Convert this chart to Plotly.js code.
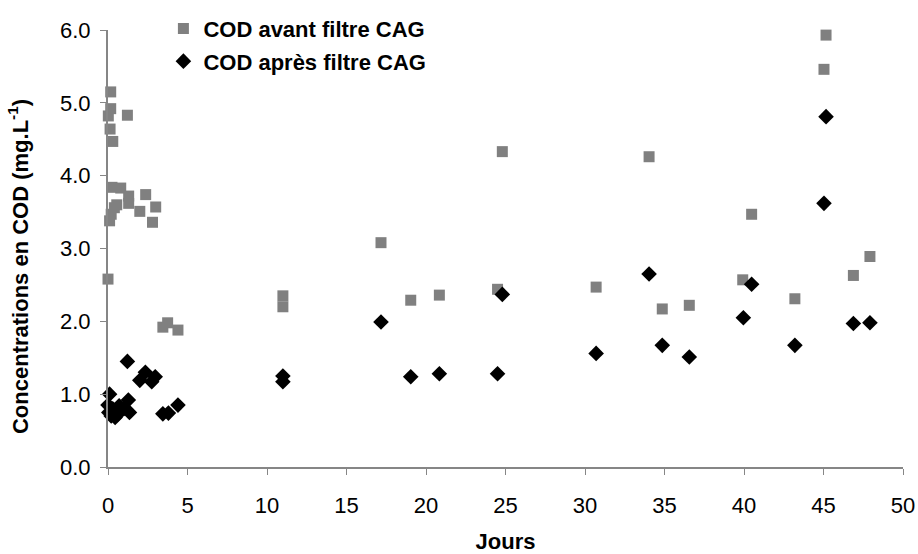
<!DOCTYPE html>
<html>
<head>
<meta charset="utf-8">
<script src="https://cdn.plot.ly/plotly-3.0.1.min.js"></script>
<style>html,body{margin:0;padding:0;background:#fff;}#chart{width:918px;height:554px;}</style>
</head>
<body>
<div id="chart"></div>
<script>
// Days and COD concentrations (mg/L)
const avantJours = [0.0, 0.1, 0.2, 0.4, 0.55, 0.25, 0.8, 0.3, 0.13, 0.02, 0.17, 0.17, 1.22, 1.3, 1.3, 2.37, 2.0, 3.0, 2.8, 3.45, 3.75, 4.4, 11.0, 11.0, 17.17, 19.04, 20.84, 24.5, 24.8, 30.7, 34.03, 34.86, 36.56, 39.92, 40.48, 43.2, 45.03, 45.16, 46.88, 47.92];
const avantCOD = [2.58, 3.38, 3.47, 3.56, 3.6, 3.84, 3.83, 4.47, 4.64, 4.82, 4.92, 5.15, 4.83, 3.72, 3.62, 3.74, 3.51, 3.57, 3.36, 1.92, 1.98, 1.88, 2.35, 2.2, 3.08, 2.29, 2.36, 2.44, 4.33, 2.47, 4.26, 2.17, 2.22, 2.57, 3.47, 2.31, 5.46, 5.93, 2.63, 2.89];

const apresJours = [0.1, 0.0, 0.05, 0.2, 0.45, 0.3, 0.6, 0.7, 1.0, 1.28, 1.35, 1.22, 2.0, 2.35, 2.75, 2.97, 3.45, 3.8, 4.4, 11.0, 11.0, 17.17, 19.04, 20.84, 24.5, 24.8, 30.7, 34.03, 34.86, 36.56, 39.96, 40.48, 43.2, 45.03, 45.16, 46.88, 47.92];
const apresCOD = [1.0, 0.85, 0.75, 0.7, 0.68, 0.8, 0.72, 0.84, 0.8, 0.92, 0.75, 1.45, 1.19, 1.30, 1.17, 1.24, 0.73, 0.74, 0.85, 1.25, 1.17, 1.99, 1.24, 1.28, 1.28, 2.37, 1.56, 2.65, 1.67, 1.51, 2.05, 2.51, 1.67, 3.62, 4.81, 1.97, 1.98];

const serieNames = ["COD avant filtre CAG", "COD après filtre CAG"];
const xTitle = "Jours";
const yTitle = "Concentrations en COD (mg.L<sup>-1</sup>)";

const FONT = "Arial, 'Liberation Sans', sans-serif";
const axisColor = "#868686";

const traces = [
  {
    x: avantJours, y: avantCOD, type: "scatter", mode: "markers",
    name: serieNames[0], legendgroup: "a", cliponaxis: false,
    marker: {symbol: "square", size: 11, color: "#808080"}
  },
  {
    x: apresJours, y: apresCOD, type: "scatter", mode: "markers",
    name: serieNames[1], legendgroup: "b", cliponaxis: false,
    marker: {symbol: "diamond", size: 12, color: "#000000"}
  }
];

const layout = {
  width: 918, height: 554,
  margin: {l: 108, r: 15, t: 30, b: 87, pad: 0, autoexpand: false},
  paper_bgcolor: "#fff", plot_bgcolor: "#fff",
  font: {family: FONT, size: 22, color: "#000"},
  showlegend: true,
  legend: {
    xref: "container", yref: "container",
    x: 0.178, y: 0.986, xanchor: "left", yanchor: "top",
    bgcolor: "rgba(0,0,0,0)", font: {family: FONT, size: 22, color: "#000", weight: "bold"},
    traceorder: "grouped", tracegroupgap: 1, itemwidth: 30
  },
  xaxis: {
    range: [0, 50], dtick: 5, tick0: 0,
    showgrid: false, zeroline: false, automargin: true,
    showline: true, linecolor: axisColor, linewidth: 2,
    ticks: "outside", ticklen: 6, tickcolor: axisColor, tickwidth: 1,
    ticklabelstandoff: 12,
    tickfont: {family: FONT, size: 22, color: "#000"},
    title: {text: "<b>" + xTitle + "</b>", font: {family: FONT, size: 22, color: "#000"}, standoff: 24}
  },
  yaxis: {
    range: [0, 6], dtick: 1, tick0: 0, tickformat: ".1f",
    showgrid: false, zeroline: false, automargin: false,
    showline: true, linecolor: axisColor, linewidth: 2,
    ticks: "outside", ticklen: 6, tickcolor: axisColor, tickwidth: 1,
    ticklabelstandoff: 5,
    tickfont: {family: FONT, size: 22, color: "#000"}
  },
  annotations: [{
    text: "<b>" + yTitle + "</b>",
    xref: "paper", yref: "paper", x: -0.113, y: 0.458,
    xanchor: "center", yanchor: "middle", textangle: -90, showarrow: false,
    font: {family: FONT, size: 22, color: "#000"}
  }]
};

Plotly.newPlot("chart", traces, layout, {displayModeBar: false, staticPlot: true});
</script>
</body>
</html>
